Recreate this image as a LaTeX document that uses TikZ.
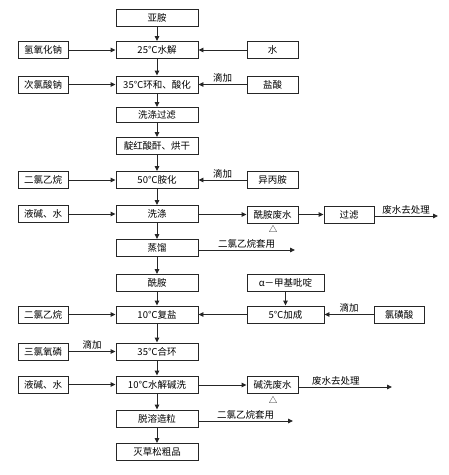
\documentclass[tikz,border=0pt]{standalone}
\usepackage{fontspec}
\setmainfont{Noto Sans CJK SC}
\usetikzlibrary{arrows.meta}
\begin{document}
\begin{tikzpicture}[x=1pt,y=-1pt,
  every node/.style={font=\fontsize{9.5pt}{10pt}\selectfont},
  box/.style={draw=black!85,line width=0.9pt,minimum height=17pt,inner sep=0pt},
  cbox/.style={box,minimum width=82pt},
  lbox/.style={box,minimum width=50pt},
  rbox/.style={box,minimum width=51pt},
  wbox/.style={box,minimum width=77pt},
  arr/.style={draw=black!85,line width=0.9pt,-{Triangle[length=5pt,width=4.5pt]}},
  lab/.style={above,inner sep=1.5pt},
  delta/.style={inner sep=0pt,font=\fontsize{8.5pt}{9pt}\selectfont}]
\useasboundingbox (0,0) rectangle (449,475);
\fill[white] (0,0) rectangle (449,475);
% center column
\node[cbox] (c0) at (157,17.5) {亚胺};
\node[cbox] (c1) at (157,50) {25℃水解};
\node[cbox] (c2) at (157,84.5) {35℃环和、酸化};
\node[cbox,minimum height=15pt] (c3) at (157,115) {洗涤过滤};
\node[cbox] (c4) at (157,146) {靛红酸酐、烘干};
\node[cbox] (c5) at (157,180) {50℃胺化};
\node[cbox] (c6) at (157,214) {洗涤};
\node[cbox] (c7) at (157,248) {蒸馏};
\node[cbox] (c8) at (157,283) {酰胺};
\node[cbox] (c9) at (157,314.5) {10℃复盐};
\node[cbox] (c10) at (157,351.5) {35℃合环};
\node[cbox] (c11) at (157,384.5) {10℃水解碱洗};
\node[cbox] (c12) at (157,418.5) {脱溶造粒};
\node[cbox] (c13) at (157,452) {灭草松粗品};
% left column
\node[lbox] (l1) at (43,50) {氢氧化钠};
\node[lbox] (l2) at (43,84.5) {次氯酸钠};
\node[lbox] (l5) at (43,180) {二氯乙烷};
\node[lbox] (l6) at (43,214) {液碱、水};
\node[lbox] (l9) at (43,314.5) {二氯乙烷};
\node[lbox] (l10) at (43,351.5) {三氯氧磷};
\node[lbox] (l11) at (43,384.5) {液碱、水};
% right column
\node[rbox] (r1) at (272.5,50) {水};
\node[rbox] (r2) at (272.5,84.5) {盐酸};
\node[rbox] (r5) at (272.5,180) {异丙胺};
\node[rbox] (r6) at (272.5,214.5) {酰胺废水};
\node[lbox] (f6) at (349,214.5) {过滤};
\node[wbox] (a8) at (285.5,283) {α－甲基吡啶};
\node[wbox] (a9) at (285.5,314.5) {5℃加成};
\node[lbox] (s9) at (399,314.5) {氯磺酸};
\node[rbox] (r11) at (272.5,385) {碱洗废水};
\node[delta] (d6) at (273,229) {△};
\node[delta] (d11) at (273,400) {△};
% free ends
\coordinate (e6) at (438,216);
\coordinate (e7) at (295,250);
\coordinate (e11) at (392,387);
\coordinate (e12) at (293,421);
% vertical flow
\foreach \a/\b in {c0/c1,c1/c2,c2/c3,c3/c4,c4/c5,c5/c6,c6/c7,c7/c8,c8/c9,c9/c10,c10/c11,c11/c12,c12/c13}
  \draw[arr] (\a) -- (\b);
% left inputs
\draw[arr] (l1) -- (c1);
\draw[arr] (l2) -- (c2);
\draw[arr] (l5) -- (c5);
\draw[arr] (l6) -- (c6);
\draw[arr] (l9) -- (c9);
\draw[arr] (l10) -- node[lab] {滴加} (c10);
\draw[arr] (l11) -- (c11);
% right inputs
\draw[arr] (r1) -- (c1);
\draw[arr] (r2) -- node[lab] {滴加} (c2);
\draw[arr] (r5) -- node[lab] {滴加} (c5);
\draw[arr] (c6.east |- r6) -- (r6);
\draw[arr] (r6) -- (f6);
\draw[arr] (f6.east |- e6) -- node[lab] {废水去处理} (e6);
\draw[arr] (c7.east |- e7) -- node[lab] {二氯乙烷套用} (e7);
\draw[arr] (a8) -- (a9);
\draw[arr] (s9) -- node[lab] {滴加} (a9);
\draw[arr] (a9) -- (c9);
\draw[arr] (c11.east |- r11) -- (r11);
\draw[arr] (r11.east |- e11) -- node[lab,pos=0.4] {废水去处理} (e11);
\draw[arr] (c12.east |- e12) -- node[lab] {二氯乙烷套用} (e12);
\end{tikzpicture}
\end{document}
